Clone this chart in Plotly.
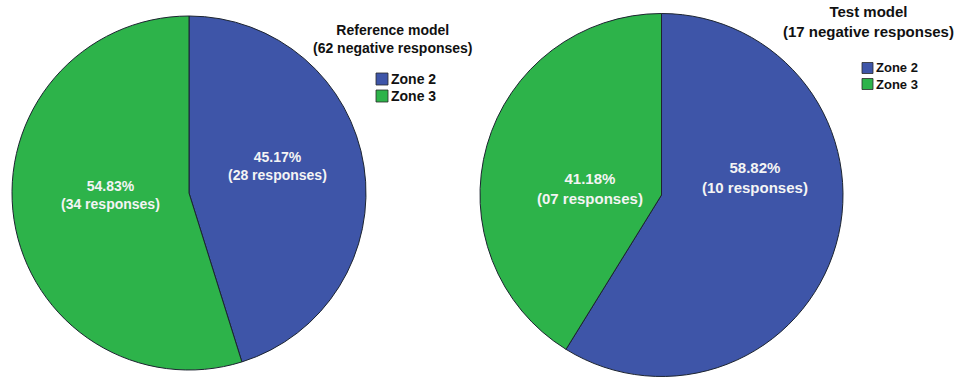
import plotly.graph_objects as go

# Zone breakdown of negative responses for each model
zones = ["Zone 2", "Zone 3"]
zone_colors = ["#3E55A8", "#2DB34A"]

ref_title = "Reference model"
ref_total = 62
ref_share = [45.17, 54.83]      # percent of negative responses
ref_counts = [28, 34]           # number of responses

test_title = "Test model"
test_total = 17
test_share = [58.82, 41.18]
test_counts = [10, 7]

W, H = 954, 379
FONT = "Liberation Sans, Arial, sans-serif"


def px_x(v):
    return v / W


def px_y(v):
    return 1 - v / H


def pie(share, counts, x0, x1, y_top, y_bot):
    return go.Pie(
        labels=zones,
        values=share,
        customdata=counts,
        sort=False,
        direction="clockwise",
        rotation=0,
        marker=dict(colors=zone_colors, line=dict(color="#1c2430", width=1)),
        textinfo="none",
        hoverinfo="label+value",
        showlegend=False,
        domain=dict(x=[px_x(x0), px_x(x1)], y=[px_y(y_bot), px_y(y_top)]),
    )


fig = go.Figure()
fig.add_trace(pie(ref_share, ref_counts, 12, 366, 16, 370))
fig.add_trace(pie(test_share, test_counts, 480, 843, 13, 377))

annotations = []
shapes = []


def slice_labels(share, counts, spots, size):
    # one white label per slice, placed at a fixed pixel spot
    for s, c, (cx, cy) in zip(share, counts, spots):
        annotations.append(dict(
            text=f"<b>{s:.2f}%<br>({c:02d} responses)</b>",
            x=px_x(cx), y=px_y(cy), xref="paper", yref="paper",
            xanchor="center", yanchor="middle", showarrow=False,
            font=dict(family=FONT, size=size, color="#F4F4F4"),
        ))


def title_block(name, total, cx, cy, size):
    annotations.append(dict(
        text=f"<b>{name}<br>({total} negative responses)</b>",
        x=px_x(cx), y=px_y(cy), xref="paper", yref="paper",
        xanchor="center", yanchor="middle", showarrow=False,
        font=dict(family=FONT, size=size, color="#111111"),
    ))


def legend_block(x_sq, y_first, step, sq, size):
    for i, (name, col) in enumerate(zip(zones, zone_colors)):
        yc = y_first + i * step
        shapes.append(dict(
            type="rect", xref="paper", yref="paper",
            x0=px_x(x_sq), x1=px_x(x_sq + sq),
            y0=px_y(yc + sq / 2), y1=px_y(yc - sq / 2),
            fillcolor=col, line=dict(color="#2a2a2a", width=0.8),
        ))
        annotations.append(dict(
            text=f"<b>{name}</b>",
            x=px_x(x_sq + sq + 1), y=px_y(yc), xref="paper", yref="paper",
            xanchor="left", yanchor="middle", showarrow=False,
            font=dict(family=FONT, size=size, color="#111111"),
        ))


slice_labels(ref_share, ref_counts, [(277, 166), (110, 195)], 14)
slice_labels(test_share, test_counts, [(755, 178), (590, 188)], 15)
title_block(ref_title, ref_total, 393, 39, 14)
title_block(test_title, test_total, 868, 21, 15)
legend_block(376, 79, 17, 12, 14)
legend_block(862, 68, 16, 11, 13)

fig.update_layout(
    width=W, height=H,
    margin=dict(l=0, r=0, t=0, b=0),
    paper_bgcolor="white",
    plot_bgcolor="white",
    annotations=annotations,
    shapes=shapes,
)

fig.write_html("out.html")
